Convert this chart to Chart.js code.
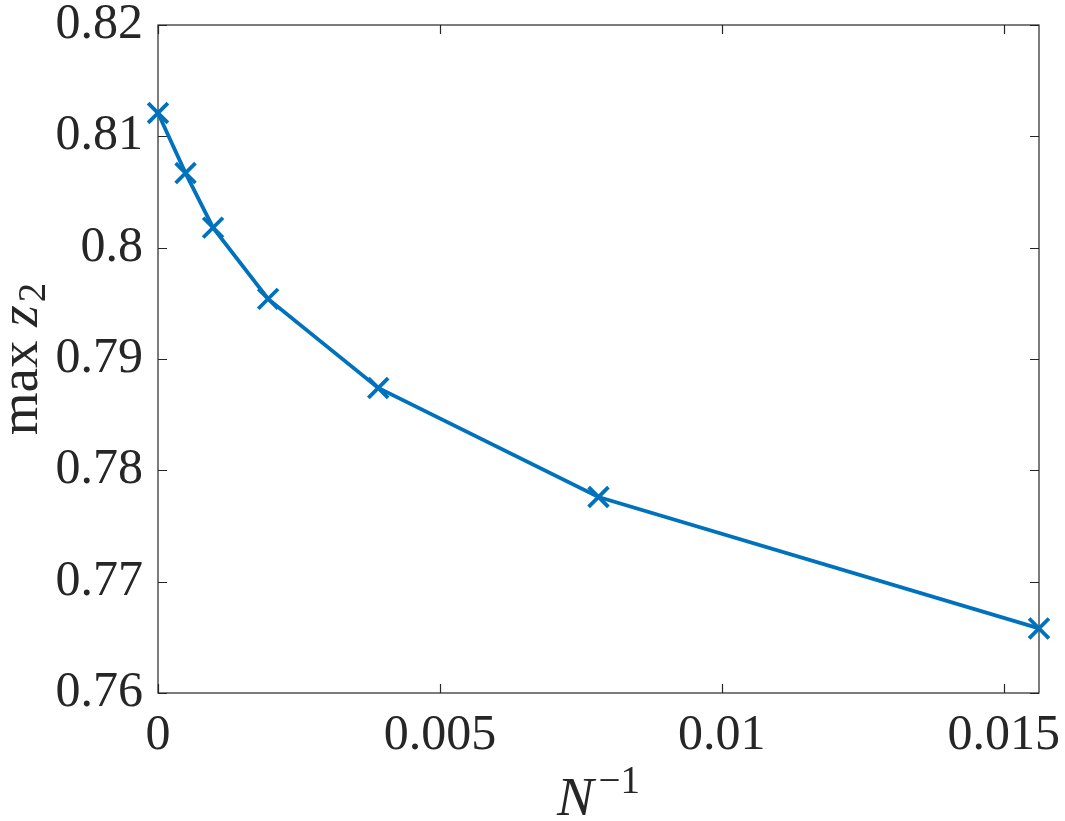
<!DOCTYPE html>
<html>
<head>
<meta charset="utf-8">
<script src="https://cdn.jsdelivr.net/npm/chart.js@4.4.1/dist/chart.umd.min.js"></script>
<style>
  html, body { margin: 0; padding: 0; background: #fff; }
  #wrap { width: 1065px; height: 821px; }
</style>
</head>
<body>
<div id="wrap"><canvas id="chart" width="1065" height="821"></canvas></div>
<script>
// N^-1 for N = inf, 2048, 1024, 512, 256, 128, 64
const invN = [0, 0.00048828, 0.00097656, 0.0019531, 0.0039063, 0.0078125, 0.015625];
const maxZ2 = [0.8121, 0.8067, 0.8018, 0.7954, 0.7874, 0.7776, 0.7658];

const xTicks = [0, 0.005, 0.01, 0.015];
const yTicks = [0.76, 0.77, 0.78, 0.79, 0.8, 0.81, 0.82];

const FONT = "'Liberation Serif', 'Times New Roman', serif";
const AXIS = "#262626";
const BLUE = "#0072BD";

function fmt(v) {
    return String(parseFloat(v.toFixed(6)));
}

// inward ticks on all four sides + box, and the two axis titles
const boxPlugin = {
    id: "box",
    beforeDatasetsDraw(chart) {
        const ctx = chart.ctx;
        const a = chart.chartArea;
        const xs = chart.scales.x, ys = chart.scales.y;
        const len = 9;
        ctx.save();
        ctx.strokeStyle = AXIS;
        ctx.lineWidth = 1.2;
        ctx.beginPath();
        xs.ticks.forEach(t => {
            const px = Math.round(xs.getPixelForValue(t.value)) + 0.5;
            ctx.moveTo(px, a.bottom); ctx.lineTo(px, a.bottom - len);
            ctx.moveTo(px, a.top); ctx.lineTo(px, a.top + len);
        });
        ys.ticks.forEach(t => {
            const py = Math.round(ys.getPixelForValue(t.value)) + 0.5;
            ctx.moveTo(a.left, py); ctx.lineTo(a.left + len, py);
            ctx.moveTo(a.right, py); ctx.lineTo(a.right - len, py);
        });
        ctx.stroke();
        ctx.strokeRect(a.left, a.top, a.right - a.left, a.bottom - a.top);
        ctx.restore();
    },
    afterDraw(chart) {
        const ctx = chart.ctx;
        const a = chart.chartArea;
        ctx.save();
        ctx.fillStyle = AXIS;
        ctx.textBaseline = "alphabetic";

        const big = "55px " + FONT, bigIt = "italic 55px " + FONT, sup = "39px " + FONT;

        // x title: N^{-1}
        ctx.font = bigIt;
        const wN = ctx.measureText("N").width;
        ctx.font = sup;
        const wS = ctx.measureText("\u22121").width;
        const cx = (a.left + a.right) / 2;
        const x0 = cx - (wN + 5 + wS) / 2;
        ctx.font = bigIt;
        ctx.fillText("N", x0, 815);
        ctx.font = sup;
        ctx.fillText("\u22121", x0 + wN + 5, 793);

        // y title: max z_2 (rotated)
        ctx.font = big;
        const wMax = ctx.measureText("max ").width;
        ctx.font = bigIt;
        const wZ = ctx.measureText("z").width;
        ctx.font = sup;
        const w2 = ctx.measureText("2").width;
        const total = wMax + wZ + w2 + 3;
        const cy = (a.top + a.bottom) / 2;
        ctx.translate(37, cy);
        ctx.rotate(-Math.PI / 2);
        let u = -total / 2;
        ctx.font = big;
        ctx.fillText("max ", u, 0);
        u += wMax;
        ctx.font = bigIt;
        ctx.fillText("z", u, 0);
        u += wZ + 3;
        ctx.font = sup;
        ctx.fillText("2", u, 8);
        ctx.restore();
    }
};

new Chart(document.getElementById("chart"), {
    type: "line",
    data: {
        datasets: [{
            data: invN.map((x, i) => ({ x: x, y: maxZ2[i] })),
            borderColor: BLUE,
            backgroundColor: BLUE,
            borderWidth: 3.8,
            pointStyle: "crossRot",
            pointRadius: 14,
            pointBorderWidth: 3.8,
            pointBorderColor: BLUE,
            tension: 0,
            clip: false
        }]
    },
    options: {
        responsive: false,
        animation: false,
        layout: { padding: { top: 25, right: 26, left: 0, bottom: 0 } },
        plugins: {
            legend: { display: false },
            tooltip: { enabled: false }
        },
        scales: {
            x: {
                type: "linear",
                min: 0,
                max: 0.015625,
                afterBuildTicks: s => { s.ticks = xTicks.map(v => ({ value: v })); },
                afterFit: s => { s.height = 128; s.paddingLeft = 0; s.paddingRight = 0; },
                grid: { display: false, drawTicks: false },
                border: { display: false },
                ticks: {
                    padding: 13,
                    color: AXIS,
                    font: { family: FONT, size: 50 },
                    maxRotation: 0,
                    autoSkip: false,
                    callback: v => fmt(v)
                }
            },
            y: {
                type: "linear",
                min: 0.76,
                max: 0.82,
                afterBuildTicks: s => { s.ticks = yTicks.map(v => ({ value: v })); },
                afterFit: s => { s.width = 158; s.paddingTop = 0; s.paddingBottom = 0; },
                grid: { display: false, drawTicks: false },
                border: { display: false },
                ticks: {
                    padding: 15,
                    color: AXIS,
                    font: { family: FONT, size: 50 },
                    autoSkip: false,
                    callback: v => fmt(v)
                }
            }
        }
    },
    plugins: [boxPlugin]
});
</script>
</body>
</html>
